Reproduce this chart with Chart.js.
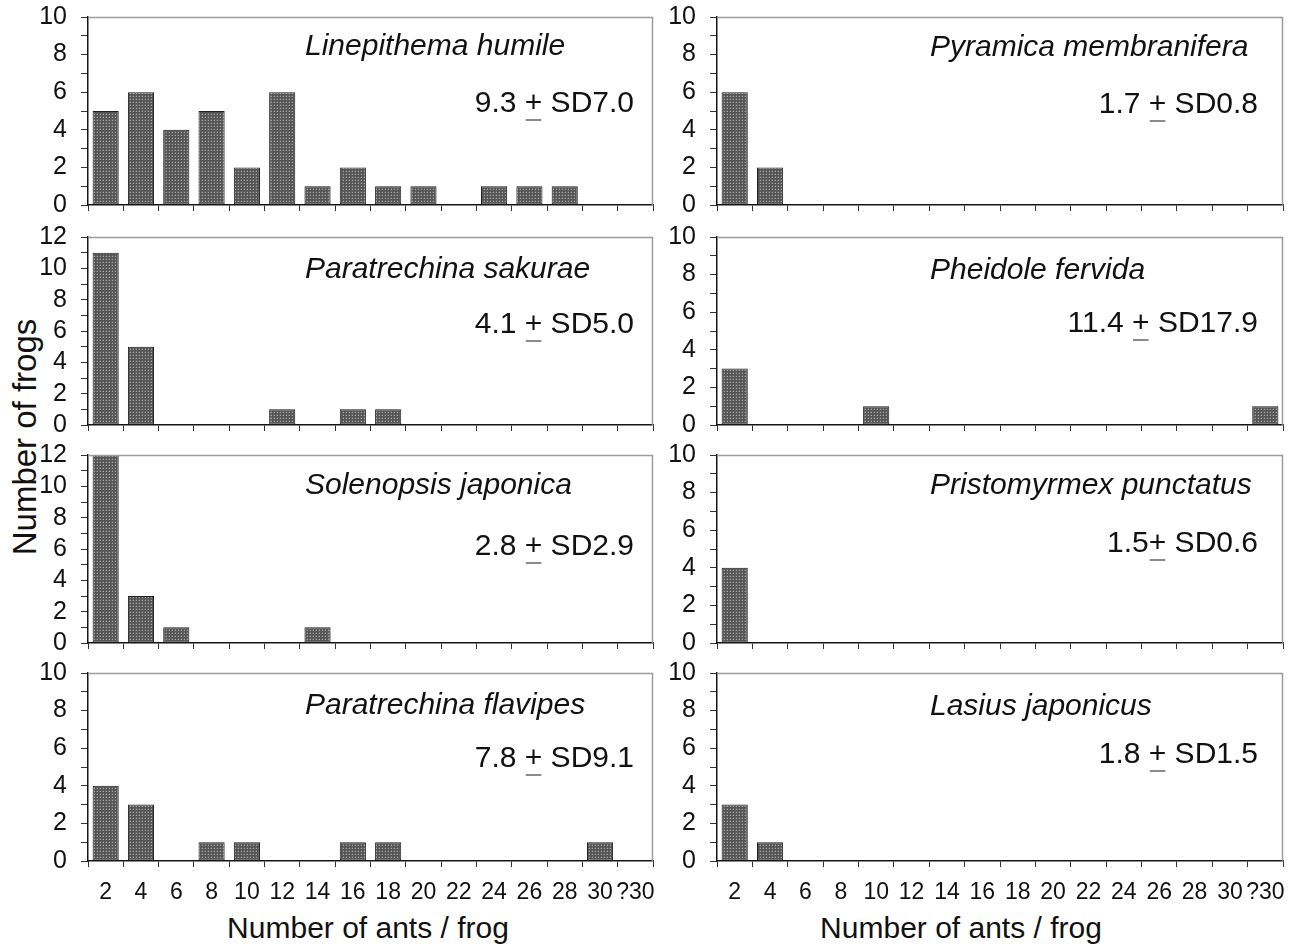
<!DOCTYPE html>
<html><head><meta charset="utf-8">
<script src="https://cdn.jsdelivr.net/npm/chart.js@4.4.0/dist/chart.umd.min.js"></script>
<style>
html,body{margin:0;padding:0;background:#fff;}
body{width:1303px;height:944px;position:relative;overflow:hidden;font-family:"Liberation Sans",Arial,sans-serif;color:#111;}
.panel{position:absolute;}
.txt{position:absolute;white-space:nowrap;font-size:30px;line-height:30px;color:#111;}
#ytitle{left:24px;top:437px;transform:translate(-50%,-50%) rotate(-90deg);font-size:33px;line-height:33px;}
</style></head><body>
<div class="txt" id="ytitle">Number of frogs</div>
<div class="txt" style="left:368px;top:913px;transform:translateX(-50%);">Number of ants / frog</div>
<div class="txt" style="left:961px;top:913px;transform:translateX(-50%);">Number of ants / frog</div>
<script>
// ---- data ----
const antBins = ['2','4','6','8','10','12','14','16','18','20','22','24','26','28','30','?30'];

const linepithemaHumile     = [5,6,4,5,2,6,1,2,1,1,0,1,1,1,0,0];
const paratrechinaSakurae   = [11,5,0,0,0,1,0,1,1,0,0,0,0,0,0,0];
const solenopsisJaponica    = [12,3,1,0,0,0,1,0,0,0,0,0,0,0,0,0];
const paratrechinaFlavipes  = [4,3,0,1,1,0,0,1,1,0,0,0,0,0,1,0];
const pyramicaMembranifera  = [6,2,0,0,0,0,0,0,0,0,0,0,0,0,0,0];
const pheidoleFervida       = [3,0,0,0,1,0,0,0,0,0,0,0,0,0,0,1];
const pristomyrmexPunctatus = [4,0,0,0,0,0,0,0,0,0,0,0,0,0,0,0];
const lasiusJaponicus       = [3,1,0,0,0,0,0,0,0,0,0,0,0,0,0,0];

const speciesNames = ['Linepithema humile','Paratrechina sakurae','Solenopsis japonica','Paratrechina flavipes',
                      'Pyramica membranifera','Pheidole fervida','Pristomyrmex punctatus','Lasius japonicus'];
const statsBefore = ['9.3 ','4.1 ','2.8 ','7.8 ','1.7 ','11.4 ','1.5','1.8 '];
const statsAfter  = [' SD7.0',' SD5.0',' SD2.9',' SD9.1',' SD0.8',' SD17.9',' SD0.6',' SD1.5'];
const yMaxValues  = [10,12,12,10,10,10,10,10];
const seriesList  = [linepithemaHumile,paratrechinaSakurae,solenopsisJaponica,paratrechinaFlavipes,
                     pyramicaMembranifera,pheidoleFervida,pristomyrmexPunctatus,lasiusJaponicus];

// ---- layout ----
const FONT = '"Liberation Sans", Arial, sans-serif';
const rowTop = [17,237,455,673];
const rowBottom = [205,425,643,861];
const cols = [
  {left:0,   width:670, axisW:88, padR:17, nameDx:217, statsDx:19},
  {left:660, width:643, axisW:57, padR:20, nameDx:213, statsDx:25}
];
const nameDy  = [30,33,31,33, 31,34,31,34];
const statsDy = [87,88,92,86, 88,87,89,82];
const PADT = 18;

function makePattern(ctx){
  const t = document.createElement('canvas'); t.width = 3; t.height = 3;
  const g = t.getContext('2d');
  g.fillStyle = '#555555'; g.fillRect(0,0,3,3);
  g.fillStyle = '#a6a6a6'; g.fillRect(1,1,1,1);
  g.fillStyle = '#6c6c6c'; g.fillRect(0,1,1,1); g.fillRect(1,0,1,1);
  return ctx.createPattern(t,'repeat');
}

const annotate = {
  id:'annotate',
  afterDraw(chart){
    const o = chart.options.plugins.annotate;
    const {ctx, chartArea:a} = chart;
    ctx.save();
    // gray top/right frame
    ctx.strokeStyle = '#9c9c9c'; ctx.lineWidth = 1.5;
    ctx.beginPath();
    ctx.moveTo(a.left, a.top+0.5); ctx.lineTo(a.right-0.5, a.top+0.5); ctx.lineTo(a.right-0.5, a.bottom);
    ctx.stroke();
    // species name
    ctx.fillStyle = '#111';
    ctx.textBaseline = 'middle';
    ctx.textAlign = 'left';
    ctx.font = 'italic 30px ' + FONT;
    ctx.fillText(o.name, a.left + o.nameDx, a.top + o.nameDy);
    // stats with underlined plus
    ctx.font = '30px ' + FONT;
    const parts = [o.before, '+', o.after];
    const ws = parts.map(p => ctx.measureText(p).width);
    let x = a.right - o.statsDx - ws.reduce((s,v)=>s+v,0);
    const y = a.top + o.statsDy;
    parts.forEach((p,i) => {
      ctx.fillStyle = '#111';
      ctx.fillText(p, x, y);
      if (i === 1) { ctx.fillStyle = '#8a8a8a'; ctx.fillRect(x+1, y+15, ws[i]-2, 2); }
      x += ws[i];
    });
    ctx.restore();
  }
};

for (let i = 0; i < 8; i++) {
  const c = cols[Math.floor(i/4)];
  const r = i % 4;
  const bottomRow = (r === 3);
  const xh = bottomRow ? 83 : 10;
  const T = rowTop[r], B = rowBottom[r];
  const div = document.createElement('div');
  div.className = 'panel';
  const h = (B - T) + PADT + xh;
  div.style.left = c.left + 'px'; div.style.top = (T - PADT) + 'px';
  div.style.width = c.width + 'px'; div.style.height = h + 'px';
  const cv = document.createElement('canvas');
  cv.width = c.width; cv.height = h;
  cv.style.width = c.width + 'px'; cv.style.height = h + 'px';
  div.appendChild(cv);
  document.body.appendChild(div);
  const ctx = cv.getContext('2d');

  new Chart(ctx, {
    type: 'bar',
    data: {
      labels: antBins,
      datasets: [{
        data: seriesList[i],
        backgroundColor: makePattern(ctx),
        borderColor: '#1e1e1e',
        borderWidth: 1,
        borderSkipped: false,
        barPercentage: 0.74,
        categoryPercentage: 1
      }]
    },
    options: {
      responsive: false,
      animation: false,
      events: [],
      layout: { padding: { top: PADT, right: c.padR, left: 0, bottom: 0 } },
      plugins: {
        legend: { display: false },
        tooltip: { enabled: false },
        annotate: { name: speciesNames[i], before: statsBefore[i], after: statsAfter[i],
                    nameDx: c.nameDx, statsDx: c.statsDx, nameDy: nameDy[i], statsDy: statsDy[i] }
      },
      scales: {
        x: {
          type: 'category',
          offset: true,
          grid: { offset: true, drawOnChartArea: false, drawTicks: true, tickLength: 6, color: '#333', lineWidth: 1 },
          border: { display: true, color: '#151515', width: 1.5 },
          ticks: { display: bottomRow, autoSkip: false, maxRotation: 0, minRotation: 0, padding: 12,
                   color: '#111', font: { family: FONT, size: 23 } },
          afterFit: (s) => { s.height = xh; s.paddingLeft = 0; s.paddingRight = 0; }
        },
        y: {
          min: 0, max: yMaxValues[i],
          grid: { drawOnChartArea: false, drawTicks: true, tickLength: 7, color: '#333', lineWidth: 1 },
          border: { display: true, color: '#151515', width: 1.5 },
          ticks: { stepSize: 1, autoSkip: false, padding: 14, color: '#111', font: { family: FONT, size: 25 },
                   callback: (v) => (v % 2 === 0 ? String(v) : '') },
          afterFit: (s) => { s.width = c.axisW; s.paddingTop = 0; s.paddingBottom = 0; }
        }
      }
    },
    plugins: [annotate]
  });
}
</script>
</body></html>
